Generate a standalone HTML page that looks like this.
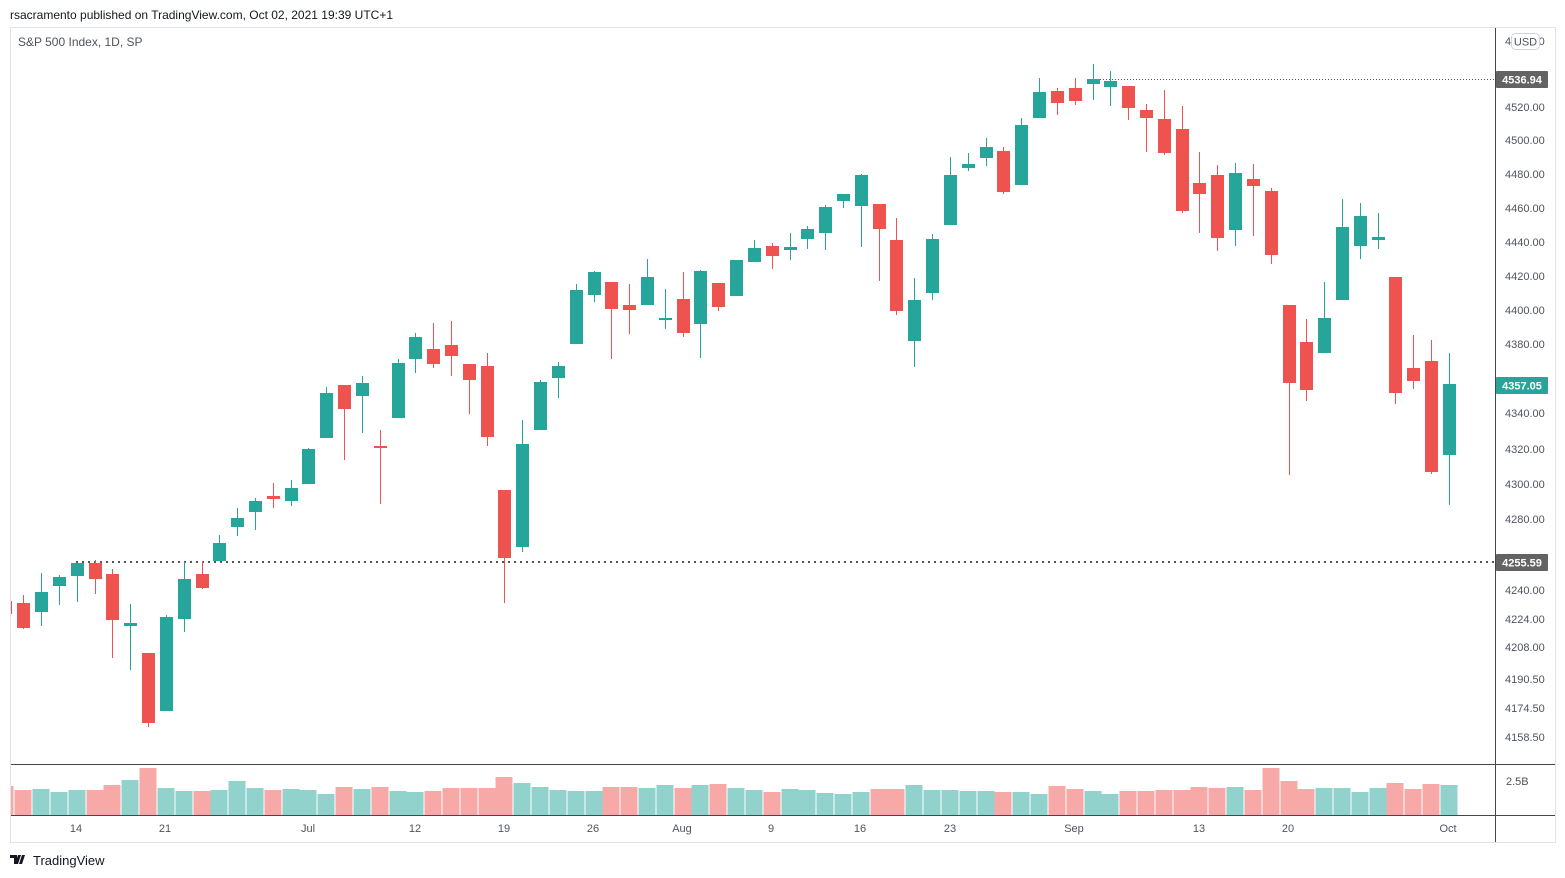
<!DOCTYPE html>
<html><head><meta charset="utf-8"><style>
html,body{margin:0;padding:0;background:#fff;width:1565px;height:878px;overflow:hidden;font-family:"Liberation Sans",sans-serif}
svg{position:absolute;left:0;top:0}
</style></head><body>
<svg id="s" width="1565" height="878" xmlns="http://www.w3.org/2000/svg" font-family="Liberation Sans, sans-serif">
<rect x="0" y="0" width="1565" height="878" fill="#fff"/>
<rect x="10.5" y="27.5" width="1545" height="815" fill="#fff" stroke="#e0e3eb" stroke-width="1"/>
<text x="10" y="19" font-size="12" fill="#131722">rsacramento published on TradingView.com, Oct 02, 2021 19:39 UTC+1</text>
<text x="18" y="46" font-size="12" fill="#50535e">S&amp;P 500 Index, 1D, SP</text>
<defs><clipPath id="cp"><rect x="11" y="28" width="1484" height="787"/></clipPath></defs>
<g id="chart" clip-path="url(#cp)"></g>
<line x1="1495.5" y1="28" x2="1495.5" y2="842" stroke="#434651" stroke-width="1"/>
<line x1="11" y1="764.5" x2="1555" y2="764.5" stroke="#434651" stroke-width="1"/>
<line x1="11" y1="815.5" x2="1555" y2="815.5" stroke="#434651" stroke-width="1"/>
<g id="axis" font-size="11" fill="#50535e"></g>
<g font-size="11" fill="#50535e" text-anchor="middle">
<text x="76" y="832">14</text><text x="165" y="832">21</text><text x="308" y="832">Jul</text>
<text x="415" y="832">12</text><text x="504" y="832">19</text><text x="593" y="832">26</text>
<text x="682" y="832">Aug</text><text x="771" y="832">9</text><text x="860" y="832">16</text>
<text x="950" y="832">23</text><text x="1074" y="832">Sep</text><text x="1199" y="832">13</text>
<text x="1288" y="832">20</text><text x="1448" y="832">Oct</text>
</g>
<text x="1506" y="785" font-size="11" fill="#50535e">2.5B</text>
<rect x="1511.5" y="33.5" width="28" height="16" rx="4" fill="#fff" stroke="#d1d4dc"/>
<text x="1525.5" y="45.5" font-size="11" fill="#50535e" text-anchor="middle">USD</text>
<rect x="1496" y="71" width="52" height="17" rx="1" fill="#636363"/>
<text x="1522" y="83.5" font-size="11" font-weight="bold" fill="#fff" text-anchor="middle">4536.94</text>
<rect x="1496" y="377" width="52" height="17" rx="1" fill="#26a69a"/>
<text x="1522" y="389.5" font-size="11" font-weight="bold" fill="#fff" text-anchor="middle">4357.05</text>
<rect x="1496" y="554" width="52" height="17" rx="1" fill="#636363"/>
<text x="1522" y="566.5" font-size="11" font-weight="bold" fill="#fff" text-anchor="middle">4255.59</text>
<g transform="translate(10,853)">
<path d="M0 2h7v9h-3v-6h-4z M8 2h3l-3 9h-3z M12 2h3l-3 9h-3z" fill="#131722"/>
</g>
<text x="33" y="865" font-size="13" fill="#131722">TradingView</text>
</svg>
<script>
var d=[
[598,601,614,616,'r'],[595,603,628,629,'r'],[573,592,612,626,'g'],[575,577,586,605,'g'],[563,563,576,602,'g'],
[560,563,579,594,'r'],[569,574,620,658,'r'],[604,623,626,670,'g'],[653,653,723,727,'r'],[615,617,711,711,'g'],
[562,579,619,632,'g'],[561,574,588,589,'r'],[535,543,561,561,'g'],[508,518,527,536,'g'],[498,501,512,530,'g'],
[483,496,499,508,'r'],[480,488,501,506,'g'],[448,449,484,484,'g'],[387,393,438,438,'g'],[385,385,409,460,'r'],
[376,383,396,433,'g'],[430,446,448,504,'r'],[359,363,418,418,'g'],[333,337,359,373,'g'],[323,349,364,368,'r'],
[321,345,356,376,'r'],[364,364,380,414,'r'],[353,366,437,446,'r'],[490,490,558,603,'r'],[420,444,547,552,'g'],
[380,382,430,430,'g'],[362,366,378,398,'g'],[284,290,344,344,'g'],[271,272,295,302,'g'],[282,282,309,359,'r'],
[284,305,310,334,'r'],[259,277,305,305,'g'],[289,318,320,329,'g'],[272,299,333,337,'r'],[270,271,324,358,'g'],
[283,283,307,311,'r'],[260,260,296,296,'g'],[240,248,262,262,'g'],[243,246,256,269,'r'],[233,247,250,260,'g'],
[226,229,239,249,'g'],[205,207,233,250,'g'],[194,194,201,208,'g'],[174,175,206,247,'g'],[204,204,229,281,'r'],
[218,240,311,315,'r'],[278,300,341,367,'g'],[234,239,293,300,'g'],[157,175,225,225,'g'],[153,164,168,171,'g'],
[138,147,158,166,'g'],[147,151,192,194,'r'],[118,125,185,185,'g'],[78,92,118,118,'g'],[88,91,103,115,'r'],
[78,88,101,105,'r'],[64,79,84,100,'g'],[71,81,87,106,'g'],[86,86,108,120,'r'],[104,110,118,152,'r'],
[90,119,153,155,'r'],[106,129,211,213,'r'],[152,183,194,233,'r'],[165,175,238,251,'r'],[163,173,230,246,'g'],
[164,179,186,236,'r'],[188,191,255,264,'r'],[305,305,383,475,'r'],[319,342,390,401,'r'],[282,318,353,353,'g'],
[199,227,300,300,'g'],[203,216,246,259,'g'],[213,237,240,249,'g'],[277,277,393,404,'r'],[335,368,381,389,'r'],
[340,361,472,474,'r'],[353,384,455,505,'g']];
var v=[786,790,789,792,790,790,785,780,768,788,791,791,790,781,788,790,789,790,794,787,789,787,791,792,791,788,788,788,777,783,787,790,791,791,787,787,788,785,788,785,784,788,790,
792,789,790,793,794,792,789,789,785,790,790,791,791,792,792,794,786,789,791,794,791,791,790,790,787,788,787,790,768,781,789,788,788,792,788,783,789,784,785];
var h='';
// dotted lines
h+='<line x1="1100" y1="79.5" x2="1495" y2="79.5" stroke="#555" stroke-width="1" stroke-dasharray="1,2"/>';
h+='<line x1="76" y1="562" x2="1495" y2="562" stroke="#555" stroke-width="2" stroke-dasharray="2,4"/>';
for(var i=0;i<d.length;i++){
 var x=23.3+(i-1)*17.82, c=d[i], col=c[4]=='g'?'#26a69a':'#ef5350', vc=c[4]=='g'?'#92d2cc':'#f7a9a7';
 var xr=Math.round(x);
 h+='<rect x="'+(xr-8.5)+'" y="'+v[i]+'" width="17" height="'+(815-v[i])+'" fill="'+vc+'"/>';
 h+='<rect x="'+xr+'" y="'+c[0]+'" width="1" height="'+(c[3]-c[0])+'" fill="'+col+'"/>';
 var bh=Math.max(c[2]-c[1],2);
 h+='<rect x="'+(xr-6)+'" y="'+c[1]+'" width="13" height="'+bh+'" fill="'+col+'"/>';
}
document.getElementById('chart').innerHTML=h;
var L=[['4520.00',107],['4500.00',140],['4480.00',174],['4460.00',208],['4440.00',242],['4420.00',276],['4400.00',310],['4380.00',344],['4340.00',413],['4320.00',449],['4300.00',484],['4280.00',519],['4240.00',590],['4224.00',619],['4208.00',647],['4190.50',679],['4174.50',708],['4158.50',737],['4540.00',41]];
var a='';
for(var j=0;j<L.length;j++){a+='<text x="1505" y="'+(L[j][1]+4)+'">'+L[j][0]+'</text>';}
document.getElementById('axis').innerHTML=a;
</script>
</body></html>
